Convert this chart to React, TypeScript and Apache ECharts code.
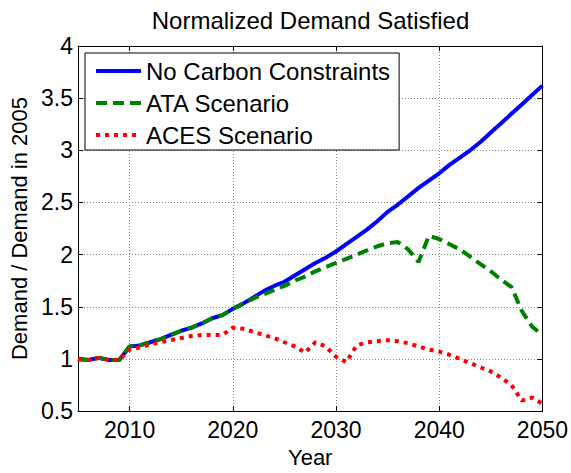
import React, { useEffect, useRef } from "react";
import * as echarts from "echarts";

const years = [
  2005, 2006, 2007, 2008, 2009, 2010, 2011, 2012, 2013, 2014, 2015, 2016,
  2017, 2018, 2019, 2020, 2021, 2022, 2023, 2024, 2025, 2026, 2027, 2028,
  2029, 2030, 2031, 2032, 2033, 2034, 2035, 2036, 2037, 2038, 2039, 2040,
  2041, 2042, 2043, 2044, 2045, 2046, 2047, 2048, 2049, 2050,
];

const noCarbon = [
  1.0, 0.99, 1.01, 0.99, 0.99, 1.12, 1.13, 1.16, 1.19, 1.23, 1.27, 1.3,
  1.34, 1.39, 1.42, 1.48, 1.53, 1.59, 1.65, 1.7, 1.74, 1.8, 1.86, 1.92,
  1.97, 2.03, 2.1, 2.17, 2.24, 2.32, 2.41, 2.48, 2.56, 2.64, 2.71, 2.78,
  2.86, 2.93, 3.0, 3.08, 3.17, 3.26, 3.35, 3.44, 3.53, 3.62,
];

const ata = [
  1.0, 0.99, 1.01, 0.99, 0.99, 1.12, 1.13, 1.16, 1.19, 1.23, 1.27, 1.3,
  1.34, 1.39, 1.42, 1.48, 1.53, 1.58, 1.62, 1.66, 1.7, 1.75, 1.79, 1.84,
  1.88, 1.92, 1.96, 2.0, 2.04, 2.08, 2.11, 2.12, 2.05, 1.93, 2.18, 2.15,
  2.1, 2.05, 1.98, 1.91, 1.84, 1.76, 1.69, 1.46, 1.31, 1.23,
];

const aces = [
  1.0, 0.99, 1.01, 0.99, 0.99, 1.09, 1.11, 1.14, 1.16, 1.18, 1.2, 1.22,
  1.23, 1.23, 1.23, 1.3, 1.29, 1.26, 1.23, 1.2, 1.16, 1.12, 1.06, 1.16,
  1.12, 1.02, 0.97, 1.13, 1.16, 1.17, 1.18, 1.17, 1.15, 1.12, 1.09, 1.07,
  1.04, 1.0, 0.96, 0.92, 0.88, 0.82, 0.75, 0.6, 0.63, 0.57,
];

const xTicks = [2010, 2020, 2030, 2040, 2050];
const seriesNames = ["No Carbon Constraints", "ATA Scenario", "ACES Scenario"];

const FONT = "'Liberation Sans', Arial, Helvetica, sans-serif";

export default function App() {
  const ref = useRef<HTMLDivElement>(null);

  useEffect(() => {
    if (!ref.current) return;
    const chart = echarts.init(ref.current, null, { renderer: "svg" });
    const pairs = (vals: number[]) => years.map((y, i) => [y, vals[i]]);
    const gridLine = { show: true, lineStyle: { color: "#8a8a8a", width: 1, type: [1, 2] as any } };
    const tickInside = { show: true, inside: true, length: 5, lineStyle: { color: "#000", width: 1 } };
    chart.setOption({
      animation: false,
      backgroundColor: "#fff",
      grid: { left: 77, right: 27, top: 46, bottom: 58, containLabel: false },
      graphic: [
        {
          type: "text",
          x: 310.5,
          y: 20,
          style: {
            text: "Normalized Demand Satisfied",
            font: `24px ${FONT}`,
            fill: "#000",
            textAlign: "center",
            textVerticalAlign: "middle",
          },
        },
      ],
      legend: {
        orient: "vertical",
        left: 85,
        top: 53,
        padding: [6, 9, 3, 9],
        itemGap: 8,
        itemWidth: 45,
        itemHeight: 14,
        backgroundColor: "#fff",
        borderColor: "#000",
        borderWidth: 1,
        borderRadius: 0,
        data: seriesNames,
        itemStyle: { opacity: 0, color: "transparent", borderWidth: 0 },
        lineStyle: { width: 4 },
        textStyle: { fontFamily: FONT, fontSize: 24, color: "#000", lineHeight: 24 },
      },
      xAxis: [
        {
          type: "value",
          min: 2005,
          max: 2050,
          name: "Year",
          nameLocation: "middle",
          nameGap: 34,
          nameTextStyle: { fontFamily: FONT, fontSize: 22, color: "#000", lineHeight: 22 },
          axisLine: { show: true, onZero: false, lineStyle: { color: "#000", width: 1 } },
          axisTick: { ...tickInside, customValues: xTicks },
          axisLabel: {
            customValues: xTicks,
            formatter: (v: number) => String(v),
            fontFamily: FONT,
            fontSize: 23,
            color: "#000",
            margin: 7,
          },
          splitLine: gridLine,
        },
        {
          type: "value",
          position: "top",
          min: 2005,
          max: 2050,
          axisLine: { show: true, onZero: false, lineStyle: { color: "#000", width: 1 } },
          axisTick: { ...tickInside, customValues: xTicks },
          axisLabel: { show: false },
          splitLine: { show: false },
        },
      ],
      yAxis: [
        {
          type: "value",
          min: 0.5,
          max: 4,
          interval: 0.5,
          name: "Demand / Demand in 2005",
          nameLocation: "middle",
          nameGap: 48,
          nameTextStyle: { fontFamily: FONT, fontSize: 22, color: "#000", lineHeight: 22 },
          axisLine: { show: true, onZero: false, lineStyle: { color: "#000", width: 1 } },
          axisTick: tickInside,
          axisLabel: { fontFamily: FONT, fontSize: 23, color: "#000", margin: 5 },
          splitLine: gridLine,
        },
        {
          type: "value",
          position: "right",
          min: 0.5,
          max: 4,
          interval: 0.5,
          axisLine: { show: true, onZero: false, lineStyle: { color: "#000", width: 1 } },
          axisTick: tickInside,
          axisLabel: { show: false },
          splitLine: { show: false },
        },
      ],
      series: [
        {
          name: seriesNames[0],
          type: "line",
          data: pairs(noCarbon),
          symbol: "none",
          lineStyle: { color: "#0000ff", width: 4, type: "solid" },
          itemStyle: { color: "#0000ff" },
        },
        {
          name: seriesNames[1],
          type: "line",
          data: pairs(ata),
          symbol: "none",
          lineStyle: { color: "#008000", width: 4, type: [11, 6], cap: "butt" },
          itemStyle: { color: "#008000" },
        },
        {
          name: seriesNames[2],
          type: "line",
          data: pairs(aces),
          symbol: "none",
          lineStyle: { color: "#ff0000", width: 4, type: [4, 5], cap: "butt" },
          itemStyle: { color: "#ff0000" },
        },
      ],
    });
    return () => chart.dispose();
  }, []);

  return <div ref={ref} style={{ width: 571, height: 473, position: "absolute", left: 0, top: 0 }} />;
}
